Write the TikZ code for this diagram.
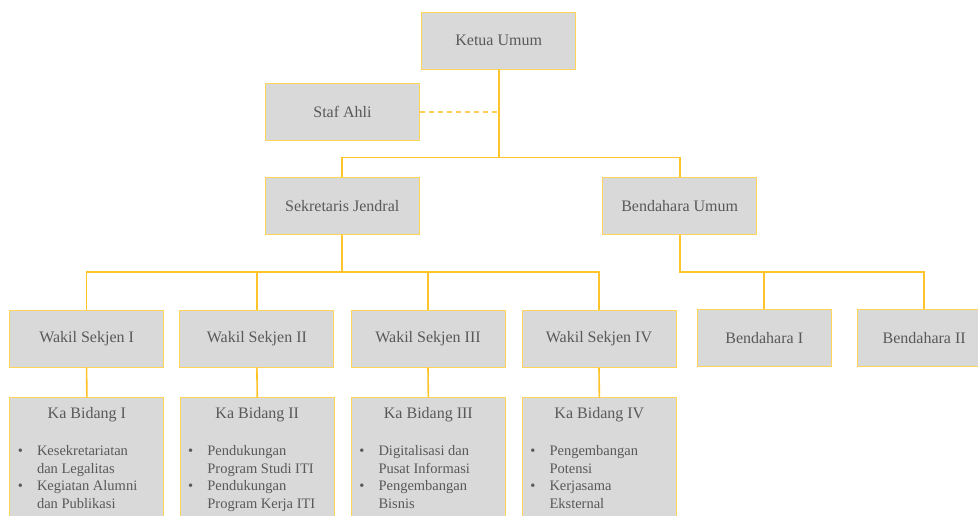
\documentclass[tikz,border=0pt]{standalone}
\usepackage{fontspec}
\setmainfont{Liberation Serif}
\definecolor{linec}{HTML}{FFC32B}
\definecolor{boxedge}{HTML}{FFD45C}
\definecolor{boxfill}{HTML}{D9D9D9}
\definecolor{txt}{HTML}{595959}
\tikzset{
  orgbox/.style={draw=boxedge, line width=0.9pt, fill=boxfill, inner sep=0pt,
    text=txt, font=\fontsize{16}{19}\selectfont, minimum height=57pt},
  wide/.style={minimum width=154pt},
  narrow/.style={minimum width=134pt},
  conn/.style={draw=linec, line width=1.6pt},
  dconn/.style={draw=linec!80, line width=1.6pt, dash pattern=on 5pt off 4pt},
  itemtxt/.style={text=txt, font=\fontsize{14.5}{17.5}\selectfont, inner sep=0pt, anchor=base west},
  kbtitle/.style={text=txt, font=\fontsize{16}{19}\selectfont, inner sep=0pt, anchor=base}
}
\newcommand{\kabox}[7]{%
  \node[orgbox, wide, minimum height=140pt, anchor=north west] (#1) at (#2,397.3) {};
  \node[kbtitle] (#1t) at ([yshift=-21.4pt]#1.north) {#3};
  \node[itemtxt] (#1b1) at ([xshift=8.2pt,yshift=-58.4pt]#1.north west) {•};
  \node[itemtxt] (#1a) at ([xshift=27.4pt,yshift=-58.4pt]#1.north west) {#4};
  \node[itemtxt] (#1b) at ([xshift=27.4pt,yshift=-76pt]#1.north west) {#5};
  \node[itemtxt] (#1b2) at ([xshift=8.2pt,yshift=-93.4pt]#1.north west) {•};
  \node[itemtxt] (#1c) at ([xshift=27.4pt,yshift=-93.4pt]#1.north west) {#6};
  \node[itemtxt] (#1d) at ([xshift=27.4pt,yshift=-111pt]#1.north west) {#7};
}
\begin{document}
\begin{tikzpicture}[x=1pt,y=-1pt]
\useasboundingbox (0,0) rectangle (978,515);
\begin{scope}
\clip (0,0) rectangle (978,515);
% level 0
\node[orgbox, wide] (ketua) at (498.7,40.8) {Ketua Umum};
\node[orgbox, wide] (staf) at (342.5,111.8) {Staf Ahli};
% level 1
\node[orgbox, wide] (sekjen) at (342.2,206.2) {Sekretaris Jendral};
\node[orgbox, wide] (bend) at (679.7,206.2) {Bendahara Umum};
% level 2
\node[orgbox, wide] (w1) at (86.6,338.7) {Wakil Sekjen I};
\node[orgbox, wide] (w2) at (256.9,338.7) {Wakil Sekjen II};
\node[orgbox, wide] (w3) at (428,338.7) {Wakil Sekjen III};
\node[orgbox, wide] (w4) at (599,338.7) {Wakil Sekjen IV};
\node[orgbox, narrow] (b1) at (764.2,338) {Bendahara I};
\node[orgbox, narrow] (b2) at (924.2,338) {Bendahara II};
% level 3
\kabox{k1}{9.4}{Ka Bidang I}{Kesekretariatan}{dan Legalitas}{Kegiatan Alumni}{dan Publikasi}
\kabox{k2}{179.8}{Ka Bidang II}{Pendukungan}{Program Studi ITI}{Pendukungan}{Program Kerja ITI}
\kabox{k3}{350.9}{Ka Bidang III}{Digitalisasi dan}{Pusat Informasi}{Pengembangan}{Bisnis}
\kabox{k4}{521.9}{Ka Bidang IV}{Pengembangan}{Potensi}{Kerjasama}{Eksternal}
\end{scope}
% connectors
\coordinate (j0) at (ketua.south |- 0,157.3);
\coordinate (js) at (ketua.south |- staf.east);
\draw[conn] (ketua.south) -- (j0);
\draw[conn] (sekjen.north) |- (j0) -| (bend.north);
\draw[dconn] (staf.east) -- (js);
\coordinate (j1) at (sekjen.south |- 0,271.7);
\draw[conn] (sekjen.south) -- (j1);
\draw[conn] (w1.north) |- (j1) -| (w4.north);
\draw[conn] (w2.north) -- (w2.north |- j1);
\draw[conn] (w3.north) -- (w3.north |- j1);
\coordinate (j2) at (bend.south |- 0,271.7);
\draw[conn] (bend.south) -- (j2) -| (b2.north);
\draw[conn] (b1.north) -- (b1.north |- j2);
\draw[conn] (w1.south) -- (k1.north);
\draw[conn] (w2.south) -- (k2.north);
\draw[conn] (w3.south) -- (k3.north);
\draw[conn] (w4.south) -- (k4.north);
\end{tikzpicture}
\end{document}
